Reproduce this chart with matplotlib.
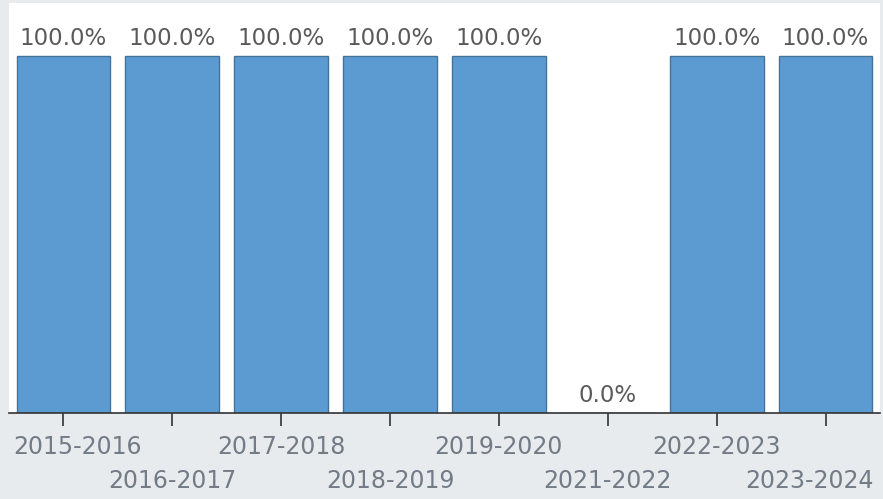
import matplotlib
matplotlib.use("Agg")
import matplotlib.pyplot as plt
from matplotlib.transforms import Affine2D

categories = ["2015-2016", "2016-2017", "2017-2018", "2018-2019", "2019-2020",
              "2021-2022", "2022-2023", "2023-2024"]
values = [100.0, 100.0, 100.0, 100.0, 100.0, 0.0, 100.0, 100.0]

plt.rcParams['font.family'] = ['DejaVu Sans']

fig = plt.figure(figsize=(8.83, 4.99), dpi=100)
fig.patch.set_facecolor('#e8ebee')
ax = fig.add_axes([9/883, (499-413)/499, 871/883, 410/499])
ax.set_facecolor('white')

x = list(range(len(categories)))
bars = ax.bar(x, values, width=0.86, color='#5b9bd1', edgecolor='#44739a', linewidth=1.0)
ax.set_xlim(-0.5, len(categories) - 0.5)
ax.set_ylim(0, 114.8)

for xi, v in zip(x, values):
    ax.annotate(f"{v:.1f}%", (xi, v), xytext=(0, 4.5), textcoords='offset points',
                ha='center', va='bottom', fontsize=16.5, color='#5a5a5a')

for s in ['top', 'right', 'left']:
    ax.spines[s].set_visible(False)
ax.spines['bottom'].set_color('#333333')
ax.spines['bottom'].set_linewidth(1.2)
ax.set_yticks([])
ax.set_xticks(x)
ax.set_xticklabels(categories, fontsize=17, color='#737b86')
ax.tick_params(axis='x', length=9, width=1.2, color='#333333')
for i, t in enumerate(ax.xaxis.get_major_ticks()):
    t.set_pad(7 if i % 2 == 0 else 31.5)

# keep edge labels inside the plot width
fig.canvas.draw()
r = fig.canvas.get_renderer()
abox = ax.get_window_extent(r)
for lab in ax.get_xticklabels():
    bb = lab.get_window_extent(r)
    dx = 0
    if bb.x0 < abox.x0 + 4:
        dx = abox.x0 + 4 - bb.x0
    elif bb.x1 > abox.x1 - 6:
        dx = abox.x1 - 6 - bb.x1
    if dx:
        lab.set_transform(lab.get_transform() + Affine2D().translate(dx, 0))

fig.savefig("out.png", dpi=100, facecolor=fig.get_facecolor())
